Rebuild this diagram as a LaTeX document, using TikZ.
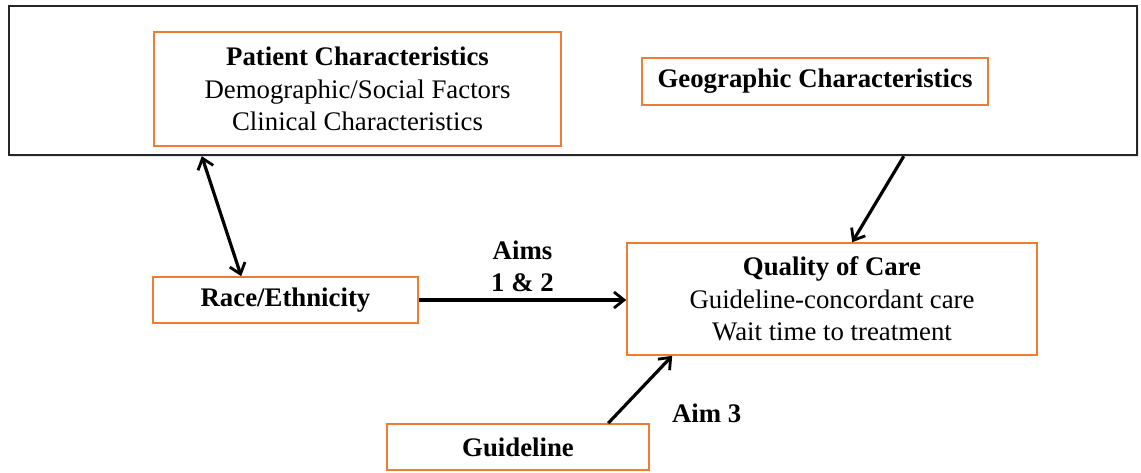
\documentclass[tikz,border=0pt]{standalone}
\usepackage{fontspec}
\setmainfont{Liberation Serif}
\usetikzlibrary{shadows, arrows.meta}

\definecolor{boxorange}{RGB}{237,125,49}

\begin{document}
\begin{tikzpicture}[
        x=0.5pt, y=-0.5pt,
        font=\fontsize{13.4}{16.2}\selectfont,
        >={Straight Barb[length=5pt, width=8pt, line width=1.4pt]},
        factor/.style={draw=boxorange, line width=0.8pt, fill=white, align=center, inner sep=0pt},
        link/.style={->, line width=1.6pt, black},
        aimlabel/.style={align=center, font=\fontsize{13.4}{16}\selectfont\bfseries}
    ]
        % 1. Fix the page frame
        \useasboundingbox (0,0) rectangle (1141,472);

        % 2. Outer context box holding the two groups of characteristics
        \node[draw=black!85, line width=1.2pt, fill=white, inner sep=0pt,
              minimum width=564pt, minimum height=74.5pt,
              drop shadow={opacity=0.2, shadow xshift=0.8pt, shadow yshift=-0.8pt}]
              (context) at (573,80.5) {};

        % 3. Factor boxes
        \node[factor, minimum width=203.5pt, minimum height=57pt] (patient) at (357.5,89)
             {\textbf{Patient Characteristics}\\Demographic/Social Factors\\Clinical Characteristics};
        \node[factor, minimum width=173pt, minimum height=23.5pt] (geo) at (815,81.5)
             {\textbf{Geographic Characteristics}};
        \node[factor, minimum width=132.5pt, minimum height=23pt] (race) at (285.5,300)
             {\textbf{Race/Ethnicity}};
        \node[factor, minimum width=205pt, minimum height=56pt] (quality) at (832,299)
             {\textbf{Quality of Care}\\Guideline-concordant care\\Wait time to treatment};
        \node[factor, minimum width=131pt, minimum height=23pt] (guide) at (518,447)
             {\textbf{Guideline}};

        % 4. Arrows between the boxes, with the aims
        \draw[link, <->] ([xshift=97pt]context.south west) -- ([xshift=44.5pt]race.north west);
        \draw[link] ([xshift=448pt]context.south west) -- ([xshift=113pt]quality.north west);
        \draw[link] (race.east) -- node[above, aimlabel] {Aims\\1 \& 2} (race.east -| quality.west);
        \draw[link] ([xshift=111pt]guide.north west) -- node[pos=0.15, right=23pt, aimlabel] {Aim 3}
              ([xshift=23pt]quality.south west);

    \end{tikzpicture}
\end{document}
